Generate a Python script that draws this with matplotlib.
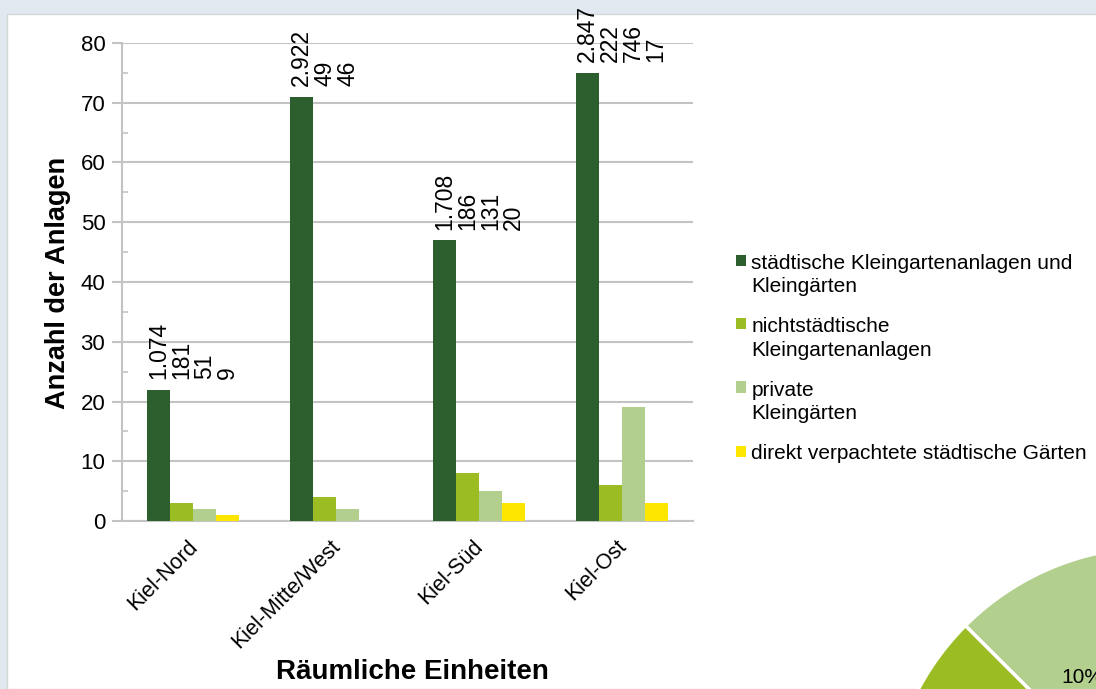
import numpy as np
import matplotlib
matplotlib.use('Agg')
import matplotlib.pyplot as plt
import matplotlib.transforms as mtransforms
from matplotlib.patches import Rectangle, Patch
from matplotlib.legend_handler import HandlerPatch

plt.rcParams['font.family'] = ['Liberation Sans', 'DejaVu Sans']

# Daten
regionen = ['Kiel-Nord', 'Kiel-Mitte/West', 'Kiel-Süd', 'Kiel-Ost']
serien = ['städtische Kleingartenanlagen und\nKleingärten',
          'nichtstädtische\nKleingartenanlagen',
          'private\nKleingärten',
          'direkt verpachtete städtische Gärten']
farben = ['#2d5f2e', '#9bbd23', '#b2cf8d', '#ffe600']

# Anzahl der Anlagen je Region
anlagen_staedtisch = [22, 71, 47, 75]
anlagen_nichtstaedtisch = [3, 4, 8, 6]
anlagen_privat = [2, 2, 5, 19]
anlagen_direkt = [1, 0, 3, 3]

# Anzahl der Gärten (Beschriftungen)
gaerten_staedtisch = [1074, 2922, 1708, 2847]
gaerten_nichtstaedtisch = [181, 49, 186, 222]
gaerten_privat = [51, 46, 131, 746]
gaerten_direkt = [9, 0, 20, 17]

anlagen = [anlagen_staedtisch, anlagen_nichtstaedtisch, anlagen_privat, anlagen_direkt]
gaerten = [gaerten_staedtisch, gaerten_nichtstaedtisch, gaerten_privat, gaerten_direkt]


def fmt(n):
    return '{:,}'.format(n).replace(',', '.')


class FirstLineHandler(HandlerPatch):
    # Legendensymbol an der ersten Textzeile ausrichten
    def __init__(self, extra_lines=0):
        super().__init__()
        self.extra_lines = extra_lines

    def create_artists(self, legend, orig_handle, xdescent, ydescent,
                       width, height, fontsize, trans):
        p = Rectangle((-xdescent, -ydescent + self.extra_lines * 0.72 * fontsize),
                      width, height)
        self.update_prop(p, orig_handle, legend)
        p.set_transform(trans)
        return [p]


fig = plt.figure(figsize=(10.96, 6.89), dpi=100)
fig.patch.set_facecolor('#e1e8f0')
fig.add_artist(Rectangle((7 / 1096, 0), 1.0, (689 - 13.5) / 689,
                         transform=fig.transFigure, facecolor='white',
                         edgecolor='#d3dad6', lw=1.0, zorder=0))

ax = fig.add_axes([122 / 1096, (689 - 521) / 689, 571 / 1096, 478 / 689])
ax.patch.set_alpha(0)

x = np.arange(len(regionen))
breite = 0.161
for i, werte in enumerate(anlagen):
    pos = x + (i - 1.5) * breite
    ax.bar(pos, werte, breite, color=farben[i], zorder=3)

# Beschriftungen über dem höchsten Balken der Gruppe
for j in range(len(regionen)):
    basis = anlagen_staedtisch[j]
    for i in range(4):
        wert = gaerten[i][j]
        if wert == 0:
            continue
        ax.annotate(fmt(wert), (x[j] + (i - 1.5) * breite, basis),
                    xytext=(0, 7.5), textcoords='offset points',
                    rotation=90, ha='center', va='bottom', fontsize=16.5,
                    annotation_clip=False)

ax.set_xlim(-0.5, 3.5)
ax.set_ylim(0, 80)
ax.set_yticks(np.arange(0, 81, 10))
ax.set_yticks(np.arange(5, 80, 10), minor=True)
ax.grid(axis='y', which='major', color='#c3c3c3', lw=1.5, zorder=0)
ax.tick_params(axis='y', which='major', direction='out', length=7,
               color='#c3c3c3', width=1.5, labelsize=16, pad=5)
ax.tick_params(axis='y', which='minor', direction='in', length=4,
               color='#c3c3c3', width=1.2)
ax.set_xticks(x)
ax.set_xticklabels(regionen, rotation=45, ha='right', rotation_mode='anchor',
                   fontsize=15.5)
ax.tick_params(axis='x', length=0, pad=13)
verschiebung = mtransforms.ScaledTranslation(-6 / 100, 3 / 100, fig.dpi_scale_trans)
for lab in ax.get_xticklabels():
    lab.set_transform(lab.get_transform() + verschiebung)
for s in ['top', 'right']:
    ax.spines[s].set_visible(False)
for s in ['left', 'bottom']:
    ax.spines[s].set_color('#c3c3c3')
    ax.spines[s].set_linewidth(1.5)

fig.text(58 / 1096, 1 - 283 / 689, 'Anzahl der Anlagen', fontsize=19.5,
         fontweight='bold', ha='center', va='center', rotation=90)
fig.text(412 / 1096, 1 - 672 / 689, 'Räumliche Einheiten', fontsize=20,
         fontweight='bold', ha='center', va='center')

# Legende
handles = [Patch(facecolor=c) for c in farben]
hmap = {h: FirstLineHandler(lab.count('\n')) for h, lab in zip(handles, serien)}
leg = fig.legend(handles, serien, loc='upper left',
                 bbox_to_anchor=(736 / 1096, 1 - 254 / 689), frameon=False,
                 fontsize=15, handlelength=0.48, handleheight=0.48,
                 handletextpad=0.25, labelspacing=1.0, handler_map=hmap,
                 borderaxespad=0, borderpad=0)
for t in leg.get_texts():
    t.set_linespacing(1.3)

# Kreisdiagramm (Anteile der Gärten) rechts unten
summen = [sum(gaerten_privat), sum(gaerten_nichtstaedtisch),
          sum(gaerten_direkt), sum(gaerten_staedtisch)]
pfarben = [farben[2], farben[1], farben[3], farben[0]]
pax = fig.add_axes([887 / 1096, (689 - 1083) / 689, 536 / 1096, 536 / 689])
pax.pie(summen, colors=pfarben, startangle=100.7, counterclock=True,
        wedgeprops=dict(edgecolor='white', linewidth=2.5),
        autopct=lambda p: '{:.0f}%'.format(p), pctdistance=0.58,
        textprops=dict(fontsize=15))
pax.set_xlim(-1, 1)
pax.set_ylim(-1, 1)
pax.set_aspect('auto')
pax.axis('off')

fig.savefig('out.png', dpi=100, facecolor=fig.get_facecolor())
